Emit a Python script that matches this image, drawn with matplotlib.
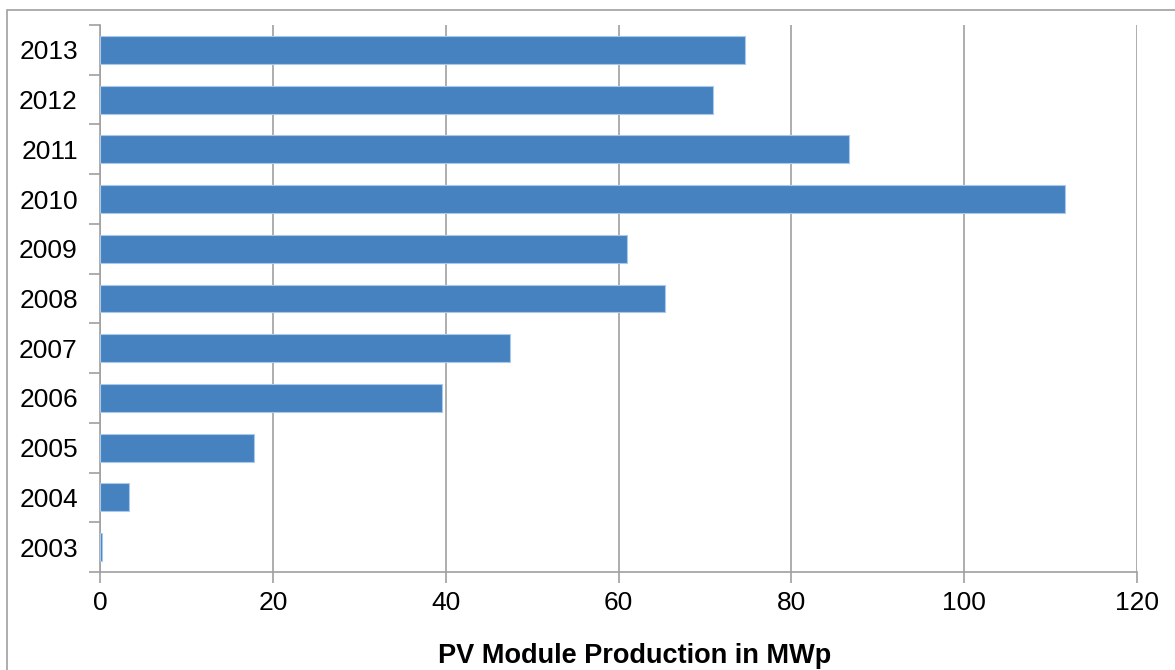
import matplotlib.pyplot as plt
from matplotlib.patches import Rectangle

years = ['2003', '2004', '2005', '2006', '2007', '2008', '2009', '2010', '2011', '2012', '2013']
production = [0.2, 3.4, 17.8, 39.6, 47.5, 65.4, 61.0, 111.7, 86.7, 70.9, 74.6]

plt.rcParams['font.family'] = ['Liberation Sans', 'DejaVu Sans']

fig = plt.figure(figsize=(11.75, 6.7), dpi=100)
ax = fig.add_axes([100 / 1175, 1 - 572 / 670, 1037 / 1175, 547 / 670])

# marco gris alrededor del grafico
fig.patches.append(Rectangle((7 / 1175, -0.1), 1.2, 1.1 - 10 / 670, transform=fig.transFigure,
                             fill=False, edgecolor='#a0a0a0', linewidth=1.2))

pos = list(range(len(years)))
ax.barh(pos, production, height=0.56, color='#4682c0', edgecolor='#a9c9ea', linewidth=0.8, zorder=3)

ax.set_xlim(0, 120)
ax.set_ylim(-0.5, len(years) - 0.5)
ax.set_xticks(range(0, 121, 20))
ax.set_yticks(pos)
ax.set_yticklabels(years)
ax.set_yticks([p - 0.5 for p in pos] + [len(years) - 0.5], minor=True)

ax.grid(axis='x', color='#a0a0a0', linewidth=1.2, zorder=0)
for s in ['top', 'right']:
    ax.spines[s].set_visible(False)
for s in ['left', 'bottom']:
    ax.spines[s].set_color('#a0a0a0')
    ax.spines[s].set_linewidth(1.2)

ax.tick_params(axis='y', which='major', length=0, labelsize=19, pad=16)
ax.tick_params(axis='y', which='minor', length=8, color='#a0a0a0', width=1.2)
ax.tick_params(axis='x', length=8, color='#a0a0a0', width=1.2, labelsize=19, pad=6)

ax.set_xlabel('PV Module Production in MWp', fontsize=19.5, fontweight='bold', labelpad=20)
ax.xaxis.label.set_x(0.516)

plt.savefig('out.png', dpi=100)
